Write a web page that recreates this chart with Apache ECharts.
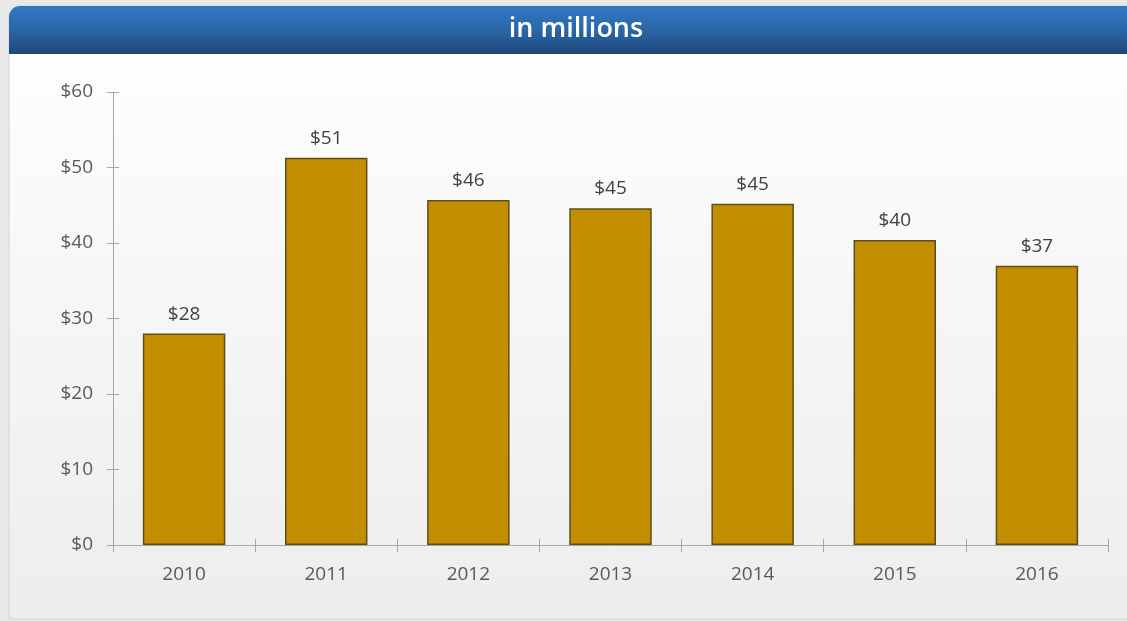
<!DOCTYPE html>
<html>
<head>
<meta charset="utf-8">
<script src="https://cdn.jsdelivr.net/npm/echarts@6/dist/echarts.min.js"></script>
<style>
  html, body { margin: 0; padding: 0; background: #e9e9e9; }
  #chart { width: 1127px; height: 621px; }
</style>
</head>
<body>
<div id="chart"></div>
<script>
// Annual figures, in millions of dollars
const years = ['2010', '2011', '2012', '2013', '2014', '2015', '2016'];
const amounts = [28, 51.3, 45.7, 44.6, 45.2, 40.4, 37];
const yTicks = [0, 10, 20, 30, 40, 50, 60];
const titleText = 'in millions';

const chart = echarts.init(document.getElementById('chart'));
const labelFont = '"Open Sans", "Noto Sans", sans-serif';

chart.setOption({
  animation: false,
  graphic: [
    {
      type: 'rect', z: -10,
      shape: { x: 9, y: 6, width: 1130, height: 613, r: [11, 0, 0, 0] },
      style: {
        fill: new echarts.graphic.LinearGradient(0, 0, 0, 1, [
          { offset: 0, color: '#ffffff' },
          { offset: 1, color: '#ededed' }
        ]),
        stroke: '#d4d4d4', lineWidth: 1
      }
    },
    {
      type: 'rect', z: -9,
      shape: { x: 9, y: 6, width: 1130, height: 48, r: [11, 0, 0, 0] },
      style: {
        fill: new echarts.graphic.LinearGradient(0, 0, 0, 1, [
          { offset: 0, color: '#3178c2' },
          { offset: 0.5, color: '#2a67a8' },
          { offset: 1, color: '#1e4679' }
        ])
      }
    },
    {
      type: 'text', z: 10,
      x: 576, y: 29,
      style: {
        text: titleText,
        fill: '#ffffff',
        font: '600 27px ' + labelFont,
        align: 'center',
        verticalAlign: 'middle'
      }
    }
  ],
  grid: { left: 113, right: 19, top: 92, bottom: 76 },
  xAxis: [
    {
      type: 'category',
      data: years,
      axisLine: { lineStyle: { color: '#a6a6a6', width: 1 } },
      axisTick: { show: true, length: 7, lineStyle: { color: '#a6a6a6' } },
      axisLabel: { color: '#595959', fontSize: 19, fontFamily: labelFont, margin: 20 }
    },
    {
      type: 'category',
      data: years,
      position: 'bottom',
      axisLine: { show: false },
      axisTick: { show: true, inside: true, length: 6, lineStyle: { color: '#a6a6a6' } },
      axisLabel: { show: false }
    }
  ],
  yAxis: [
    {
      type: 'value',
      min: 0, max: 60, interval: 10,
      axisLine: { show: true, lineStyle: { color: '#a6a6a6', width: 1 } },
      axisTick: { show: true, length: 6, lineStyle: { color: '#a6a6a6' } },
      splitLine: { show: false },
      axisLabel: {
        color: '#595959', fontSize: 19, fontFamily: labelFont, margin: 20,
        formatter: v => yTicks.includes(v) ? '$' + v : ''
      }
    },
    {
      type: 'value',
      position: 'left',
      min: 0, max: 60, interval: 10,
      axisLine: { show: false },
      axisTick: { show: true, inside: true, length: 6, lineStyle: { color: '#a6a6a6' } },
      splitLine: { show: false },
      axisLabel: { show: false }
    }
  ],
  series: [
    {
      type: 'bar',
      data: amounts,
      barWidth: '58%',
      itemStyle: {
        color: '#c38f00',
        borderColor: '#5e4c1c',
        borderWidth: 1.5
      },
      label: {
        show: true,
        position: 'top',
        distance: 10,
        color: '#404040',
        fontSize: 19,
        fontFamily: labelFont,
        formatter: p => '$' + Math.round(p.value)
      }
    }
  ]
});
</script>
</body>
</html>
